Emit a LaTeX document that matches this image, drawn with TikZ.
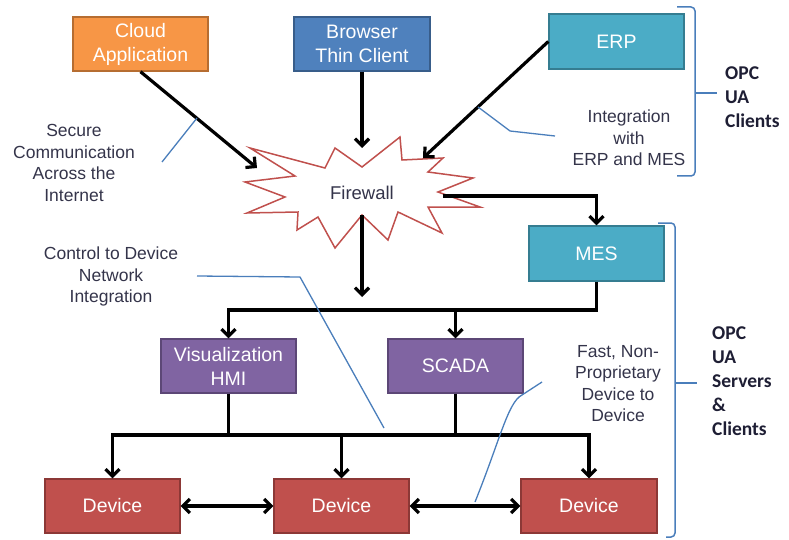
\documentclass[tikz,border=0pt]{standalone}
\usepackage{fontspec}
\setmainfont{Liberation Sans}
\newfontfamily\opcfont{Carlito}
\usetikzlibrary{arrows.meta,calc}
\definecolor{cOr}{HTML}{F79646}
\definecolor{cOrD}{HTML}{B66D31}
\definecolor{cBl}{HTML}{4F81BD}
\definecolor{cBlD}{HTML}{385D8A}
\definecolor{cTe}{HTML}{4BACC6}
\definecolor{cTeD}{HTML}{357D91}
\definecolor{cPu}{HTML}{8064A2}
\definecolor{cPuD}{HTML}{5C4776}
\definecolor{cRe}{HTML}{C0504D}
\definecolor{cReD}{HTML}{8C3836}
\definecolor{cAnn}{HTML}{4A7EBB}
\definecolor{cTxt}{HTML}{34344A}
\definecolor{cOpc}{HTML}{1E1E34}
\tikzset{
  box/.style={minimum width=135pt, minimum height=54pt, line width=1.4pt,
    text=white, font=\fontsize{19.5}{24}\selectfont, align=center, inner sep=0pt},
  arr/.style={line width=3.2pt, -{Straight Barb[length=7pt,width=14pt]}},
  darr/.style={line width=3.2pt, {Straight Barb[length=7pt,width=14pt]}-{Straight Barb[length=7pt,width=14pt]}},
  bus/.style={line width=3.2pt},
  ann/.style={draw=cAnn, line width=1.3pt},
  note/.style={text=cTxt, font=\fontsize{17.5}{21.5}\selectfont, align=center, inner sep=0pt},
  opc/.style={text=cOpc, font=\opcfont\bfseries\fontsize{19.5}{24}\selectfont, align=left, anchor=west, inner sep=0pt},
  brk/.style={draw=cAnn, line width=1.5pt, rounded corners=4pt},
  burst/.style={draw=cRe, line width=1.5pt, fill=white, line join=miter}
}
\begin{document}
\begin{tikzpicture}[x=1pt,y=-1pt]
\useasboundingbox (0,0) rectangle (789,540);
% firewall starburst
\draw[burst] (250,148) -- (295,176) -- (245,182) -- (285,197) -- (247,213) -- (298,212)
  -- (297,230) -- (318,217) -- (335,248) -- (362,215) -- (388,240) -- (398,212)
  -- (442,233) -- (428,207) -- (480,207) -- (438,192) -- (473,178) -- (428,172)
  -- (443,158) -- (402,160) -- (400,137) -- (362,167) -- (335,148) -- (325,168) -- cycle;
\node[text=cTxt, font=\fontsize{18.5}{22}\selectfont, inner sep=0pt] (fw) at (362,193) {Firewall};
\coordinate (fwin1) at (257,168);
\coordinate (fwin2) at (362,148);
\coordinate (fwin3) at (423,158);
\coordinate (fwout1) at (443,196);
\coordinate (fwout2) at (362,215);
\coordinate (fwend) at (362,297);
% boxes
\node[box, fill=cOr, draw=cOrD] (cloud) at (140.5,44) {Cloud\\Application};
\node[box, fill=cBl, draw=cBlD, minimum width=136pt] (browser) at (362,44) {Browser\\Thin Client};
\node[box, fill=cTe, draw=cTeD, minimum height=55pt] (erp) at (616.5,41.5) {ERP};
\node[box, fill=cTe, draw=cTeD, minimum height=55pt] (mes) at (596.5,253.5) {MES};
\node[box, fill=cPu, draw=cPuD] (hmi) at (228.5,366) {Visualization\\HMI};
\node[box, fill=cPu, draw=cPuD] (scada) at (455.5,366) {SCADA};
\node[box, fill=cRe, draw=cReD] (d1) at (112.5,506) {Device};
\node[box, fill=cRe, draw=cReD] (d2) at (341.5,506) {Device};
\node[box, fill=cRe, draw=cReD, minimum width=136pt] (d3) at (589,506) {Device};
% arrows to firewall
\draw[arr] (cloud.south) -- (fwin1);
\draw[arr] (browser.south) -- (fwin2);
\draw[arr] (erp.west) -- (fwin3);
% firewall out
\draw[arr] (fwout1) -| (mes.north);
\draw[arr] (fwout2) -- (fwend);
% upper bus
\coordinate (bus1) at (228.5,310);
\draw[arr] (mes.south) |- (bus1) -- (hmi.north);
\draw[arr] (scada.north |- bus1) -- (scada.north);
% lower bus
\coordinate (bus2) at (112.5,435);
\draw[arr] (hmi.south) |- (bus2) -- (d1.north);
\draw[arr] (scada.south) |- (d3.north |- bus2) -- (d3.north);
\draw[bus] (hmi.south |- bus2) -- (scada.south |- bus2);
\draw[arr] (d2.north |- bus2) -- (d2.north);
% device links
\draw[darr] (d1.east) -- (d2.west);
\draw[darr] (d2.east) -- (d3.west);
% notes
\node[note] (n1) at (74,163) {Secure\\Communication\\Across the\\Internet};
\node[note] (n2) at (111,276.5) {Control to Device\\Network\\Integration};
\node[note] (n3) at (629,138) {Integration\\with\\ERP and MES};
\node[note] (n4) at (618,383.5) {Fast, Non-\\Proprietary\\Device to\\Device};
% annotation leaders
\draw[ann] (162,162) -- (197,118);
\draw[ann] (555,136) -- (510,131) -- (478,107);
\draw[ann] (197,276) -- (300,277) -- (384,428);
\draw[ann] (475,502) .. controls (500,440) and (508,402) .. (522,395) -- (542,382);
% brackets
\draw[brk] (677,7) -- (695,7) -- (695,176) -- (677,176);
\draw[ann, line width=1.5pt] (695,93) -- (717,93);
\draw[brk] (658,223) -- (675,223) -- (675,537) -- (666,537);
\draw[ann, line width=1.5pt] (675,383) -- (697,383);
% OPC labels
\node[opc] (opc1) at (725,97) {OPC\\UA\\Clients};
\node[opc] (opc2) at (712,381) {OPC\\UA\\Servers\\\&\\Clients};
\end{tikzpicture}
\end{document}
